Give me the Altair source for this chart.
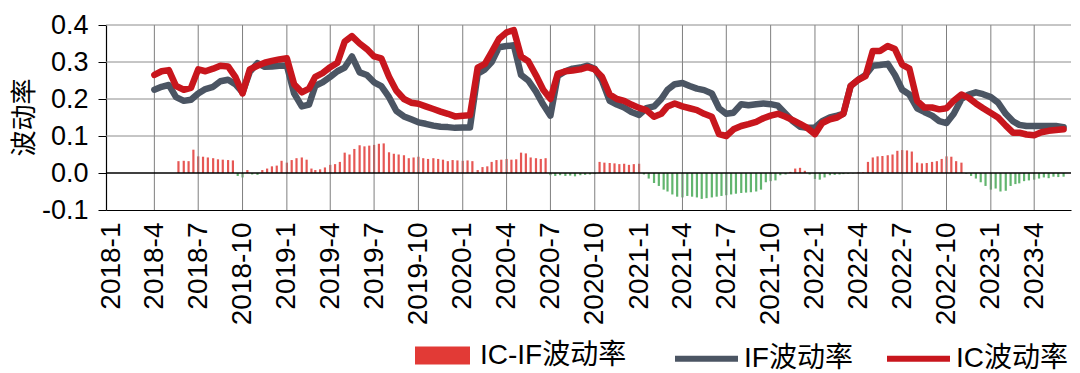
import altair as alt
import pandas as pd

# ---------------- data ----------------
# semi-monthly dates for the two volatility lines (2018-04-01 .. 2023-06-01)
line_dates = [f"{y}-{m:02d}-{d:02d}" for y in range(2018, 2024) for m in range(1, 13)
              for d in (1, 16) if (y, m) >= (2018, 4) and (y, m, d) <= (2023, 6, 1)]

ic_vol = [
    # 2018 Apr-Dec
    0.265, 0.275, 0.278, 0.235, 0.225, 0.23, 0.28, 0.275, 0.282, 0.29, 0.288, 0.26,
    0.215, 0.28, 0.29, 0.298, 0.303, 0.307,
    # 2019
    0.31, 0.24, 0.218, 0.228, 0.26, 0.27, 0.286, 0.298, 0.355, 0.37, 0.35, 0.335,
    0.315, 0.31, 0.26, 0.223, 0.2, 0.19, 0.187, 0.18, 0.173, 0.166, 0.16, 0.153,
    # 2020
    0.155, 0.156, 0.285, 0.295, 0.327, 0.362, 0.38, 0.386, 0.315, 0.302, 0.264, 0.225,
    0.2, 0.268, 0.275, 0.277, 0.28, 0.286, 0.28, 0.26, 0.212, 0.2, 0.195, 0.185,
    # 2021
    0.176, 0.17, 0.152, 0.16, 0.18, 0.188, 0.18, 0.175, 0.17, 0.16, 0.152, 0.105,
    0.10, 0.118, 0.127, 0.132, 0.138, 0.148, 0.155, 0.16, 0.152, 0.143, 0.133, 0.122,
    # 2022
    0.105, 0.135, 0.145, 0.15, 0.16, 0.235, 0.252, 0.262, 0.33, 0.33, 0.343, 0.335,
    0.293, 0.282, 0.195, 0.177, 0.177, 0.172, 0.175, 0.195, 0.212, 0.203, 0.188, 0.175,
    # 2023 Jan - Jun 1
    0.162, 0.15, 0.128, 0.109, 0.109, 0.104, 0.102, 0.11, 0.114, 0.116, 0.118,
]

if_vol = [
    # 2018 Apr-Dec
    0.225, 0.233, 0.238, 0.205, 0.195, 0.198, 0.215, 0.227, 0.233, 0.248, 0.252, 0.24,
    0.218, 0.273, 0.297, 0.287, 0.288, 0.29,
    # 2019
    0.29, 0.215, 0.18, 0.185, 0.236, 0.245, 0.26, 0.275, 0.285, 0.315, 0.272, 0.265,
    0.245, 0.235, 0.205, 0.168, 0.153, 0.145, 0.137, 0.133, 0.128, 0.125, 0.124, 0.122,
    # 2020
    0.123, 0.123, 0.268, 0.28, 0.30, 0.34, 0.343, 0.345, 0.265, 0.25, 0.22, 0.185,
    0.155, 0.262, 0.275, 0.282, 0.285, 0.29, 0.282, 0.25, 0.195, 0.185, 0.177, 0.165,
    # 2021
    0.157, 0.175, 0.18, 0.2, 0.225, 0.24, 0.243, 0.235, 0.228, 0.224, 0.215, 0.175,
    0.16, 0.163, 0.186, 0.183, 0.186, 0.188, 0.186, 0.182, 0.16, 0.14, 0.125, 0.122,
    # 2022
    0.123, 0.14, 0.15, 0.155, 0.16, 0.235, 0.252, 0.265, 0.29, 0.292, 0.295, 0.265,
    0.225, 0.212, 0.175, 0.165, 0.155, 0.14, 0.135, 0.16, 0.2, 0.212, 0.218, 0.213,
    # 2023 Jan - Jun 1
    0.205, 0.19, 0.16, 0.14, 0.13, 0.127, 0.127, 0.127, 0.127, 0.127, 0.124,
]

# dates of the IC-IF difference bars (1st, 11th, 21st; 2018-05-21 .. 2023-06-01)
bar_dates = [f"{y}-{m:02d}-{d:02d}" for y in range(2018, 2024) for m in range(1, 13)
             for d in (1, 11, 21) if (2018, 5, 21) <= (y, m, d) <= (2023, 6, 1)]

diff_vol = [
    # 2018
    0.032, 0.033, 0.032, 0.063, 0.045, 0.044, 0.042, 0.04, 0.037, 0.036, 0.035, 0.034,
    -0.008, -0.012, 0.008, -0.004, -0.005, 0.008, 0.012, 0.018, 0.02, 0.033,
    # 2019
    0.028, 0.035, 0.04, 0.042, 0.036, 0.012, 0.008, 0.01, 0.015, 0.022, 0.024, 0.03,
    0.055, 0.05, 0.065, 0.075, 0.072, 0.074, 0.076, 0.079, 0.08, 0.056, 0.052, 0.05,
    0.048, 0.04, 0.042, 0.044, 0.04, 0.038, 0.04, 0.038, 0.036, 0.032, 0.035, 0.034,
    # 2020
    0.033, 0.034, 0.032, 0.008, 0.016, 0.018, 0.03, 0.035, 0.036, 0.038, 0.036, 0.037,
    0.055, 0.053, 0.042, 0.04, 0.038, 0.04, -0.006, -0.008, -0.006, -0.008, -0.007, -0.009,
    -0.006, -0.005, -0.004, -0.003, 0.03, 0.028, 0.027, 0.026, 0.024, 0.025, 0.022, 0.024,
    # 2021
    0.025, -0.004, -0.015, -0.027, -0.035, -0.045, -0.05, -0.058, -0.064, -0.066, -0.062, -0.064,
    -0.066, -0.07, -0.068, -0.066, -0.064, -0.062, -0.06, -0.058, -0.056, -0.054, -0.053, -0.052,
    -0.05, -0.045, -0.025, -0.022, -0.02, -0.006, -0.004, 0.003, 0.012, 0.014, 0.006, -0.004,
    # 2022
    -0.016, -0.018, -0.012, -0.006, -0.005, -0.004, -0.003, -0.002, -0.001, 0.002, 0.002, 0.03,
    0.042, 0.045, 0.046, 0.048, 0.05, 0.06, 0.062, 0.061, 0.058, 0.028, 0.026, 0.027,
    0.03, 0.032, 0.038, 0.045, 0.044, 0.032, 0.028, -0.002, -0.008, -0.015, -0.025, -0.035,
    # 2023
    -0.045, -0.042, -0.05, -0.048, -0.035, -0.03, -0.028, -0.022, -0.02, -0.018, -0.015, -0.012,
    -0.014, -0.01, -0.011, -0.01,
]

quarter_ticks = [(y, m) for y in range(2018, 2024) for m in (1, 4, 7, 10) if (y, m) <= (2023, 4)]
y_ticks = [-0.1, 0.0, 0.1, 0.2, 0.3, 0.4]
y_grid = [0.1, 0.2, 0.3, 0.4]
zero_level = [0.0]

series_names = ["IC-IF波动率", "IF波动率", "IC波动率"]
RED_BAR = "#e23a36"
GREEN_BAR = "#3ba34b"
GREY_LINE = "#4b5563"
RED_LINE = "#c8161d"

# ---------------- tables ----------------
lines_df = pd.DataFrame({
    "date": line_dates * 2,
    "value": if_vol + ic_vol,
    "series": [series_names[1]] * len(line_dates) + [series_names[2]] * len(line_dates),
})
bars_df = pd.DataFrame({"date": bar_dates, "value": diff_vol, "series": series_names[0]})
zero_df = pd.DataFrame({"value": zero_level})
hgrid_df = pd.DataFrame({"value": y_grid})
vgrid_df = pd.DataFrame({"date": [f"{y}-{m:02d}-01" for y, m in quarter_ticks[1:]]})

FONT = "Liberation Sans, Noto Sans CJK SC"

x_axis = alt.Axis(
    values=[alt.DateTime(year=y, month=m, date=1, utc=True) for y, m in quarter_ticks],
    labelExpr="utcyear(datum.value) + '-' + (utcmonth(datum.value) + 1)",
    labelAngle=270, labelAlign="right", labelBaseline="middle",
    labelPadding=12, ticks=False, grid=False, title=None,
)
x_scale = alt.Scale(domain=[alt.DateTime(year=2018, month=1, date=1, utc=True),
                            alt.DateTime(year=2023, month=6, date=6, utc=True)])
y_scale = alt.Scale(domain=[-0.1, 0.4], nice=False, zero=False)
y_axis = alt.Axis(
    values=y_ticks,
    labelExpr="replace(format(datum.value, '.1f'), '\u2212', '-')",
    grid=False, title="波动率",
)


def X():
    return alt.X("date:T", scale=x_scale, axis=x_axis)


def Y():
    return alt.Y("value:Q", scale=y_scale, axis=y_axis)


vgrid = alt.Chart(vgrid_df).mark_rule(color="#7f7f7f", strokeWidth=1, opacity=1).encode(x=X())
hgrid = alt.Chart(hgrid_df).mark_rule(color="#8c8c8c", strokeWidth=1, opacity=1).encode(y=Y())

bars_pos = alt.Chart(bars_df).transform_filter(alt.datum.value >= 0).mark_bar(
    size=2.2, opacity=0.85
).encode(
    x=X(), y=Y(),
    color=alt.Color(
        "series:N",
        scale=alt.Scale(domain=[series_names[0]], range=[RED_BAR]),
        legend=alt.Legend(
            orient="none", legendX=309, legendY=303, title=None, direction="horizontal",
            symbolType="M-1,-0.33L1,-0.33L1,0.33L-1,0.33Z", symbolSize=3025,
            symbolStrokeWidth=0, symbolOpacity=1, labelFontSize=28, labelFont=FONT,
            labelColor="black", labelOffset=10, padding=0,
        ),
    ),
)
bars_neg = alt.Chart(bars_df).transform_filter(alt.datum.value < 0).mark_bar(
    size=2.2, opacity=0.8, color=GREEN_BAR
).encode(x=X(), y=Y())

zero_rule = alt.Chart(zero_df).mark_rule(color="black", strokeWidth=1.3).encode(y=Y())

line_color = alt.Color(
    "series:N",
    scale=alt.Scale(domain=series_names[1:], range=[GREY_LINE, RED_LINE]),
    legend=alt.Legend(
        orient="none", legendX=566, legendY=299, title=None, direction="horizontal",
        symbolType="stroke", symbolSize=3969, symbolStrokeWidth=6, labelFontSize=28,
        labelFont=FONT, labelColor="black", labelOffset=3, columnPadding=22, padding=0,
    ),
)
if_line = alt.Chart(lines_df).transform_filter(alt.datum.series == series_names[1]).mark_line(
    strokeWidth=6.5, strokeJoin="round", strokeCap="round"
).encode(x=X(), y=Y(), color=line_color)
ic_line = alt.Chart(lines_df).transform_filter(alt.datum.series == series_names[2]).mark_line(
    strokeWidth=6.5, strokeJoin="round", strokeCap="round"
).encode(x=X(), y=Y(), color=line_color)

lines = alt.layer(if_line, ic_line)

chart = alt.layer(bars_pos, bars_neg, vgrid, hgrid, zero_rule, lines).resolve_scale(
    color="independent"
).properties(
    width=965, height=185,
    autosize=alt.AutoSizeParams(type="none"),
    padding={"left": 98, "top": 17, "right": 1, "bottom": 175},
    background="white",
).configure_view(
    stroke=None
).configure_axis(
    labelFont=FONT, labelColor="black", domainColor="black", domainWidth=1.2,
    labelOverlap=False, labelFlush=False, labelBound=False,
).configure_axisX(
    labelFontSize=28,
).configure_axisY(
    labelFontSize=27, labelPadding=10, tickSize=8, tickColor="black",
    titleFont="Noto Sans CJK SC", titleFontSize=26, titleFontWeight="normal",
    titleColor="black", titleAngle=270, titleX=-82, titleY=92, titleAlign="center",
    titleBaseline="middle",
)

chart.save("out.html", embed_options={"renderer": "svg", "actions": False})
